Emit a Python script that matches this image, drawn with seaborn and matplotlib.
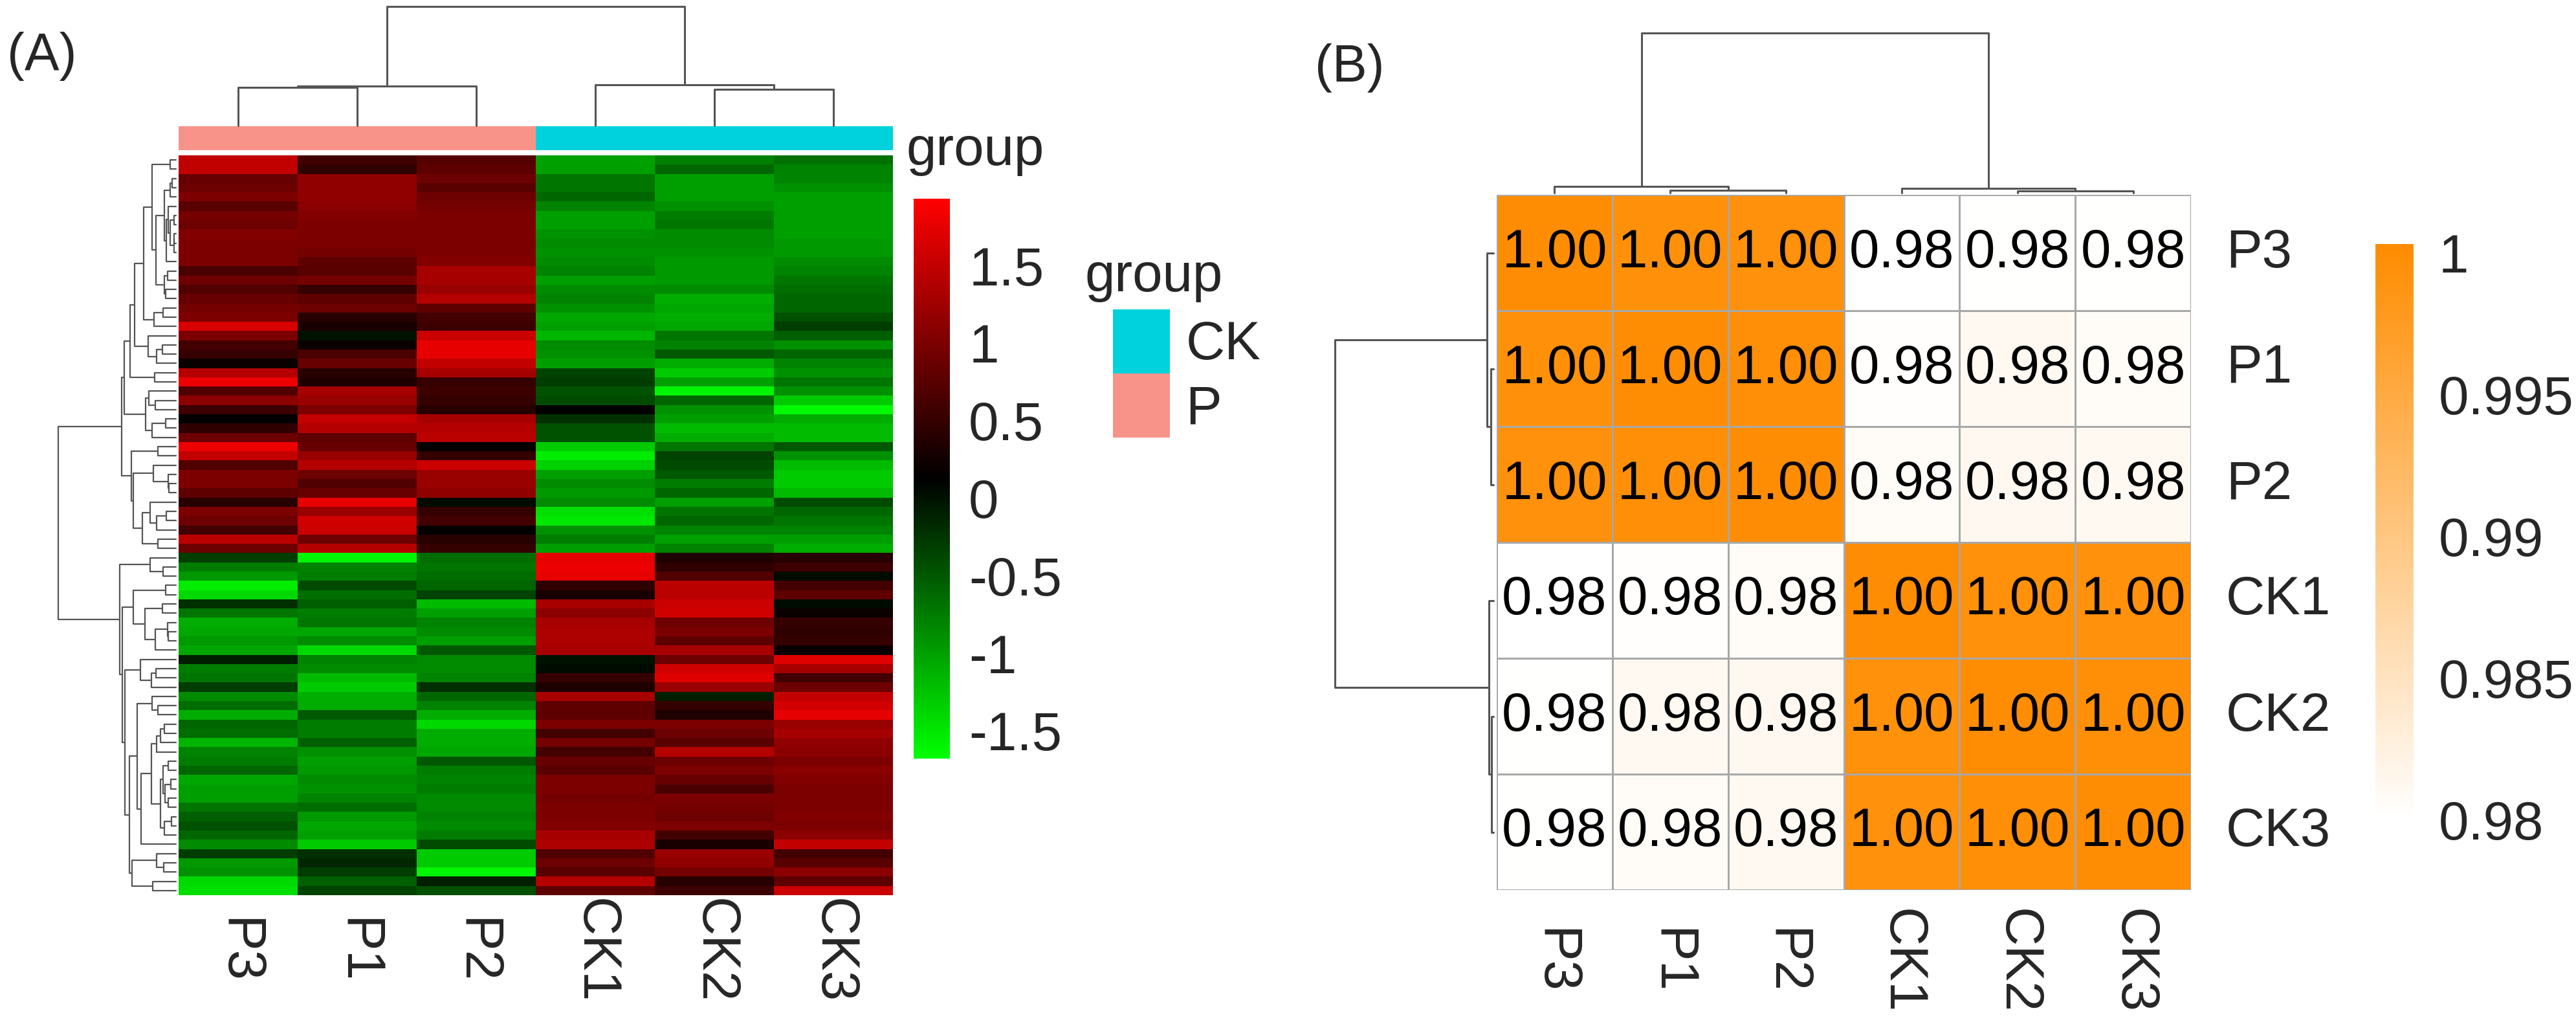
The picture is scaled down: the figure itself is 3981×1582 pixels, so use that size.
import numpy as np
import pandas as pd
import matplotlib
matplotlib.use('Agg')
import matplotlib.pyplot as plt
import seaborn as sns
from matplotlib.colors import LinearSegmentedColormap, ListedColormap
from matplotlib.patches import Patch

sns.set_style('white')
plt.rcParams['font.family'] = ['Liberation Sans', 'DejaVu Sans']
plt.rcParams['axes.unicode_minus'] = False

# samples in the order the heatmaps show them
samples = ['P3', 'P1', 'P2', 'CK1', 'CK2', 'CK3']
groups = ['P', 'P', 'P', 'CK', 'CK', 'CK']

# (A) row-scaled expression, one value per visible band, top to bottom
P3 = [1.48, 1.48, 0.85, 0.9, 1.0, 0.75, 0.95, 0.9, 1.05, 1.0, 1.0, 1.0, 0.65, 0.9, 0.7,
      0.85, 0.95, 1.0, 1.65, 1.0, 0.6, 0.5, 0.2, 1.4, 1.8, 0.7, 1.1, 0.55, 0.15, 0.45,
      0.9, 1.8, 1.5, 0.7, 1.0, 1.0, 0.8, 0.4, 1.0, 0.9, 0.6, 1.45, 0.9,
      -0.3, -0.75, -0.95, -1.55, -1.4, -0.2, -0.7, -1.1, -1.05, -0.95, -1.05, -0.1, -0.75,
      -0.7, -0.3, -0.85, -0.65, -1.1, -0.6, -0.65, -1.15, -0.8, -0.75, -0.6, -1.05, -1.0,
      -1.0, -0.7, -0.55, -0.45, -0.6, -0.85, -0.3, -0.95, -0.9, -1.4, -1.45]
P1 = [0.58, 0.45, 1.15, 1.15, 1.15, 1.1, 1.05, 1.0, 1.0, 1.0, 0.95, 0.8, 0.75, 0.95, 0.5,
      0.8, 0.9, 0.4, 0.3, 0.0, 0.2, 0.65, 0.85, 0.4, 0.35, 1.3, 1.2, 1.0, 1.5, 1.4,
      0.8, 0.85, 1.2, 1.4, 0.9, 0.7, 0.85, 1.75, 1.2, 1.6, 1.55, 0.9, 1.4,
      -1.6, -0.8, -0.75, -0.4, -0.65, -0.55, -0.75, -0.7, -1.05, -0.85, -1.4, -0.8, -0.85,
      -1.2, -1.3, -1.1, -1.1, -0.5, -0.75, -0.75, -0.55, -0.9, -1.0, -0.95, -0.85, -0.9,
      -0.8, -0.65, -0.95, -1.05, -1.0, -1.3, -0.2, -0.15, -0.3, -0.55, -0.35]
P2 = [0.72, 0.8, 0.9, 0.75, 0.9, 0.95, 1.0, 1.0, 1.0, 1.0, 1.0, 1.05, 1.3, 1.3, 1.2,
      1.4, 0.8, 0.6, 0.55, 1.55, 1.75, 1.75, 1.5, 1.3, 0.5, 0.55, 0.5, 0.4, 1.3, 1.4,
      1.45, 0.15, 0.5, 1.55, 1.2, 1.2, 1.15, 0.05, 0.5, 0.6, 0.15, 0.4, 0.5,
      -0.65, -0.7, -0.65, -0.6, -0.35, -1.2, -1.0, -0.8, -0.85, -1.0, -0.5, -0.85, -0.85,
      -0.8, -0.2, -0.6, -0.8, -1.1, -1.4, -1.1, -1.1, -1.05, -0.5, -0.75, -0.8, -0.75,
      -0.85, -0.85, -0.8, -0.85, -0.75, -0.4, -1.3, -1.3, -1.6, -0.1, -0.45]
CK1 = [-1.01, -1.0, -0.7, -0.7, -0.6, -0.8, -1.0, -1.0, -0.9, -0.85, -0.9, -0.85, -0.8, -1.0, -0.85,
       -0.8, -0.9, -1.05, -1.0, -1.15, -0.85, -0.9, -1.0, -0.35, -0.3, -0.45, -0.4, 0.15, -0.2, -0.45,
       -0.45, -1.3, -1.55, -1.35, -1.0, -0.85, -0.95, -0.85, -1.45, -1.5, -0.9, -0.75, -1.0,
       1.75, 1.8, 1.75, 0.45, 0.3, 1.3, 1.1, 1.3, 1.35, 1.35, 1.3, 0.0, 0.05,
       0.5, 0.35, 1.3, 0.8, 0.8, 1.0, 0.6, 0.95, 0.6, 0.85, 0.75, 1.0, 1.0,
       0.95, 1.0, 1.0, 1.05, 1.3, 1.35, 0.7, 0.9, 0.75, 1.4, 0.8]
CK2 = [-0.78, -0.6, -1.0, -1.0, -1.0, -0.9, -0.75, -0.7, -0.85, -0.85, -0.9, -0.95, -0.95, -0.95, -0.85,
       -1.1, -1.05, -1.1, -1.05, -0.7, -0.8, -0.5, -1.1, -1.3, -1.0, -1.6, -0.6, -0.9, -1.0, -1.2,
       -1.1, -0.7, -0.35, -0.4, -0.5, -0.75, -0.6, -1.0, -0.7, -0.6, -0.8, -1.0, -0.8,
       0.35, 0.45, 0.7, 1.45, 1.45, 1.55, 1.6, 0.9, 1.0, 0.8, 1.3, 0.9, 1.6,
       1.7, 1.2, -0.1, 0.5, 0.35, 1.0, 0.9, 0.75, 1.4, 0.9, 1.0, 0.85, 0.65,
       1.0, 0.95, 0.9, 1.0, 0.6, 0.3, 1.2, 1.15, 0.95, 0.4, 0.55]
CK3 = [-0.67, -0.8, -0.8, -0.9, -1.0, -1.0, -1.0, -1.0, -1.0, -0.95, -0.95, -0.85, -0.8, -0.7, -0.65,
       -0.6, -0.6, -0.45, -0.3, -0.55, -0.9, -0.6, -0.8, -0.9, -0.7, -0.9, -1.3, -1.65, -1.1, -1.2,
       -1.2, -0.5, -0.9, -1.2, -1.3, -1.3, -1.2, -0.4, -0.6, -0.7, -0.8, -1.0, -1.1,
       0.4, 0.55, 0.05, 0.6, 0.8, 0.05, 0.2, 0.5, 0.45, 0.5, 0.2, 1.7, 1.3,
       0.6, 0.9, 1.5, 1.6, 1.75, 1.2, 1.3, 1.15, 1.1, 1.0, 1.1, 1.05, 1.0,
       1.0, 1.0, 1.05, 1.0, 1.1, 1.5, 0.6, 0.75, 1.1, 0.8, 1.55]
a_ticks = [-1.5, -1, -0.5, 0, 0.5, 1, 1.5]
a_ticklabels = ['-1.5', '-1', '-0.5', '0', '0.5', '1', '1.5']

# (B) sample correlation matrix, rows in the same order as samples
cor_P3 = [1.0, 0.9995, 0.9993, 0.9800, 0.9801, 0.9801]
cor_P1 = [0.9995, 1.0, 0.9997, 0.9802, 0.9811, 0.9806]
cor_P2 = [0.9993, 0.9997, 1.0, 0.9806, 0.9812, 0.9811]
cor_CK1 = [0.9800, 0.9802, 0.9806, 1.0, 0.9994, 0.9993]
cor_CK2 = [0.9801, 0.9811, 0.9812, 0.9994, 1.0, 0.9997]
cor_CK3 = [0.9801, 0.9806, 0.9811, 0.9993, 0.9997, 1.0]
b_ticks = [0.98, 0.985, 0.99, 0.995, 1.0]
b_ticklabels = ['0.98', '0.985', '0.99', '0.995', '1']

W, H = 3981, 1582
FS = 60
p_color, ck_color = '#F8938A', '#00D2DD'
tree_color = '#555555'


def box(x0, y0, x1, y1):
    # pixel box (top-left origin) -> figure fraction rect
    return [x0 / W, 1 - y1 / H, (x1 - x0) / W, (y1 - y0) / H]


def adjacent_linkage(X):
    # complete-linkage clustering that only joins neighbours, so the leaf
    # order stays the order of the heatmap
    X = np.asarray(X, float)
    D = np.sqrt(((X[:, None, :] - X[None, :, :]) ** 2).sum(-1))
    nodes = [([i], i + 0.5, 0.0) for i in range(len(X))]
    segs = []
    while len(nodes) > 1:
        gaps = [D[np.ix_(a[0], b[0])].max() for a, b in zip(nodes[:-1], nodes[1:])]
        k = int(np.argmin(gaps))
        (ma, pa, ha), (mb, pb, hb) = nodes[k], nodes[k + 1]
        h = gaps[k]
        segs.append(([pa, pa, pb, pb], [ha, h, h, hb]))
        nodes[k:k + 2] = [(ma + mb, (pa + pb) / 2, h)]
    return segs, len(X), nodes[0][2]


def draw_tree(ax, X, side, lw=2.2):
    segs, n, top = adjacent_linkage(X)
    for pos, hts in segs:
        if side == 'left':
            ax.plot(hts, pos, color=tree_color, lw=lw, clip_on=False)
        else:
            ax.plot(pos, hts, color=tree_color, lw=lw, clip_on=False)
    if side == 'left':
        ax.set_ylim(n, 0)
        ax.set_xlim(top, 0)
    else:
        ax.set_xlim(0, n)
        ax.set_ylim(0, top)
    ax.axis('off')


fig = plt.figure(figsize=(W / 100, H / 100), dpi=100)

# ---------------- panel A ----------------
expr = pd.DataFrame({'P3': P3, 'P1': P1, 'P2': P2, 'CK1': CK1, 'CK2': CK2, 'CK3': CK3})
cmap_a = LinearSegmentedColormap.from_list('gkr', ['#00FF00', '#000000', '#FF0000'])

ax_a = fig.add_axes(box(276, 240, 1380, 1383))
cax_a = fig.add_axes(box(1412, 307, 1468, 1172))
sns.heatmap(expr, ax=ax_a, cmap=cmap_a, vmin=-1.68, vmax=1.93, cbar_ax=cax_a,
            cbar_kws={'ticks': a_ticks}, xticklabels=samples, yticklabels=False)
ax_a.set_xticklabels(samples, rotation=270, ha='center', va='center', fontsize=FS)
ax_a.tick_params(axis='x', length=0, pad=62)
cb_a = ax_a.collections[0].colorbar
cb_a.set_ticks(a_ticks, labels=a_ticklabels)
cb_a.outline.set_visible(False)
cb_a.ax.tick_params(length=0, pad=21, labelsize=FS)

ax_ann = fig.add_axes(box(276, 195, 1380, 232))
codes = pd.DataFrame([[0 if g == 'P' else 1 for g in groups]], columns=samples)
sns.heatmap(codes, ax=ax_ann, cmap=ListedColormap([p_color, ck_color]), vmin=0, vmax=1,
            cbar=False, xticklabels=False, yticklabels=False)
fig.text(1400 / W, 1 - 255 / H, 'group', fontsize=FS, va='baseline')

draw_tree(fig.add_axes(box(90, 240, 272, 1383)), expr.values, 'left', lw=1.6)
draw_tree(fig.add_axes(box(276, 10, 1380, 194)), expr.values.T, 'top')

fig.text(1677 / W, 1 - 450 / H, 'group', fontsize=FS, va='baseline')
fig.legend([Patch(facecolor=ck_color, edgecolor='none'), Patch(facecolor=p_color, edgecolor='none')],
           ['CK', 'P'], loc='upper left', bbox_to_anchor=(1720 / W, 1 - 478 / H),
           frameon=False, borderpad=0, borderaxespad=0, handlelength=1.05, handleheight=1.45,
           labelspacing=0, handletextpad=0.3, fontsize=FS)
fig.text(11 / W, 1 - 87 / H, '(A)', fontsize=58, va='center')

# ---------------- panel B ----------------
cor = pd.DataFrame([cor_P3, cor_P1, cor_P2, cor_CK1, cor_CK2, cor_CK3],
                   index=samples, columns=samples)
cmap_b = LinearSegmentedColormap.from_list('wo', ['#FFFFFF', '#FF8C00'])

ax_b = fig.add_axes(box(2313, 301, 3386, 1375))
cax_b = fig.add_axes(box(3671, 377, 3730, 1266))
sns.heatmap(cor, ax=ax_b, cmap=cmap_b, vmin=0.98, vmax=1.0003, cbar_ax=cax_b,
            cbar_kws={'ticks': b_ticks}, annot=True, fmt='.2f',
            annot_kws={'fontsize': FS, 'color': 'black'},
            linewidths=2, linecolor='#A8A8A8')
ax_b.set_xticklabels(samples, rotation=270, ha='center', va='center', fontsize=FS)
ax_b.tick_params(axis='x', length=0, pad=79)
ax_b.yaxis.tick_right()
ax_b.set_yticklabels(samples, rotation=0, ha='left', va='center', fontsize=FS)
ax_b.tick_params(axis='y', length=0, pad=39)
cb_b = ax_b.collections[0].colorbar
cb_b.set_ticks(b_ticks, labels=b_ticklabels)
cb_b.outline.set_visible(False)
cb_b.ax.tick_params(length=0, pad=28, labelsize=FS)

draw_tree(fig.add_axes(box(2063, 301, 2308, 1375)), cor.values, 'left')
draw_tree(fig.add_axes(box(2313, 51, 3386, 298)), cor.values.T, 'top')

fig.text(2032 / W, 1 - 105 / H, '(B)', fontsize=58, va='center')

fig.savefig('out.png', dpi=100)
